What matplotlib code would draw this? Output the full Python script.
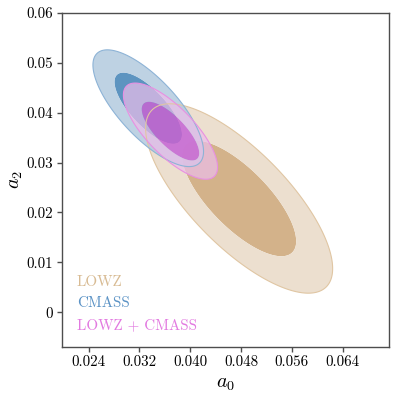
import numpy as np
import matplotlib
matplotlib.use('Agg')
import matplotlib.pyplot as plt
from matplotlib.colors import to_rgba

plt.rcParams['font.family'] = 'serif'
plt.rcParams['font.serif'] = ['cmr10']
plt.rcParams['mathtext.fontset'] = 'cm'
plt.rcParams['axes.formatter.use_mathtext'] = True

# Gaussian summaries (mean, sigma, correlation) of each constraint
names = ['LOWZ', 'CMASS', 'LOWZ + CMASS']
mean_a0 = [0.0477, 0.0334, 0.0369]
mean_a2 = [0.0228, 0.0409, 0.0363]
sigma_a0 = [0.00592, 0.00350, 0.00298]
sigma_a2 = [0.00764, 0.00471, 0.00388]
rho = [-0.74, -0.74, -0.75]

xticks = [0.024, 0.032, 0.040, 0.048, 0.056, 0.064]
xticklabels = ['0.024', '0.032', '0.040', '0.048', '0.056', '0.064']
yticks = [0.0, 0.01, 0.02, 0.03, 0.04, 0.05, 0.06]
yticklabels = ['0', '0.01', '0.02', '0.03', '0.04', '0.05', '0.06']

# 68% and 95% levels for two parameters
levels = [0, 2.30, 6.18]

# (inner, inner alpha, outer, outer alpha)
fills = [('#d3b28a', 1.0, '#ecdfcf', 1.0),
         ('#4081b5', 0.85, '#b3cadf', 0.85),
         ('#cf61d3', 0.8, '#ecbeea', 0.7)]
edge_colors = ['#e0c6a3', '#8db3d6', '#e890e2']
text_colors = ['#d8bb93', '#5a92c5', '#e27ae0']

xlim = (0.01983, 0.07124)
ylim = (-0.00693, 0.06)

fig = plt.figure(figsize=(3.99, 4.01), dpi=100)
ax = fig.add_axes([0.1554, 0.1354, 0.8188, 0.8322])

gx, gy = np.meshgrid(np.linspace(xlim[0], xlim[1], 900), np.linspace(ylim[0], ylim[1], 900))
for i in range(len(names)):
    dx = (gx - mean_a0[i]) / sigma_a0[i]
    dy = (gy - mean_a2[i]) / sigma_a2[i]
    chi2 = (dx**2 - 2*rho[i]*dx*dy + dy**2) / (1 - rho[i]**2)
    cin, ain, cout, aout = fills[i]
    ax.contourf(gx, gy, chi2, levels=levels, colors=[to_rgba(cin, ain), to_rgba(cout, aout)],
                antialiased=True)
    ax.contour(gx, gy, chi2, levels=[levels[2]], colors=edge_colors[i], linewidths=0.8)

for i, name in enumerate(names):
    ax.text(0.046, 0.194 - 0.0645*i, name, color=text_colors[i], fontsize=10.8,
            transform=ax.transAxes, va='center', ha='left')

ax.set_xlim(xlim)
ax.set_ylim(ylim)
ax.set_xticks(xticks)
ax.set_xticklabels(xticklabels)
ax.set_yticks(yticks)
ax.set_yticklabels(yticklabels)
ax.tick_params(labelsize=10.8, length=3.5, width=1.0, color='0.3', pad=3)
for s in ax.spines.values():
    s.set_color('0.3')
    s.set_linewidth(1.0)

ax.set_xlabel(r'$a_0$', fontsize=14.5, labelpad=4)
ax.set_ylabel(r'$a_2$', fontsize=14.5, labelpad=1)

plt.savefig('out.png', dpi=100)
